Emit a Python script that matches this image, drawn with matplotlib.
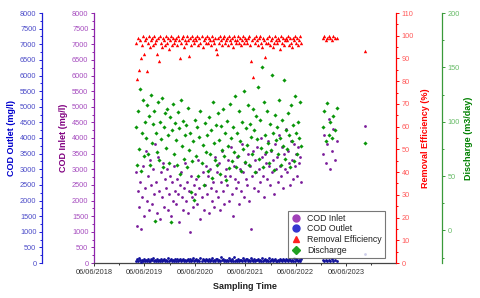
import numpy as np
import pandas as pd
import matplotlib
matplotlib.use('Agg')
import matplotlib.pyplot as plt
import matplotlib.dates as mdates
from matplotlib.ticker import MultipleLocator, FixedLocator
from matplotlib.lines import Line2D

plt.rcParams['font.family'] = ['Liberation Sans', 'DejaVu Sans']

# ---------------- data ----------------
sample_years = [
    2019.26, 2019.28, 2019.30, 2019.32, 2019.34, 2019.36, 2019.38, 2019.40, 2019.42, 2019.44,
    2019.46, 2019.48, 2019.50, 2019.52, 2019.54, 2019.56, 2019.58, 2019.60, 2019.62, 2019.64,
    2019.66, 2019.68, 2019.70, 2019.72, 2019.74, 2019.76, 2019.78, 2019.80, 2019.82, 2019.84,
    2019.86, 2019.88, 2019.90, 2019.92, 2019.94, 2019.96, 2019.98, 2020.00, 2020.02, 2020.04,
    2020.06, 2020.08, 2020.10, 2020.12, 2020.14, 2020.16, 2020.18, 2020.20, 2020.22, 2020.24,
    2020.26, 2020.28, 2020.30, 2020.32, 2020.34, 2020.36, 2020.38, 2020.40, 2020.42, 2020.44,
    2020.46, 2020.48, 2020.50, 2020.52, 2020.54, 2020.56, 2020.58, 2020.60, 2020.62, 2020.64,
    2020.66, 2020.68, 2020.70, 2020.72, 2020.74, 2020.76, 2020.78, 2020.80, 2020.82, 2020.84,
    2020.86, 2020.88, 2020.90, 2020.92, 2020.94, 2020.96, 2020.98, 2021.00, 2021.02, 2021.04,
    2021.06, 2021.08, 2021.10, 2021.12, 2021.14, 2021.16, 2021.18, 2021.20, 2021.22, 2021.24,
    2021.26, 2021.28, 2021.30, 2021.32, 2021.34, 2021.36, 2021.38, 2021.40, 2021.42, 2021.44,
    2021.46, 2021.48, 2021.50, 2021.52, 2021.54, 2021.56, 2021.58, 2021.60, 2021.62, 2021.64,
    2021.66, 2021.68, 2021.70, 2021.72, 2021.74, 2021.76, 2021.78, 2021.80, 2021.82, 2021.84,
    2021.86, 2021.88, 2021.90, 2021.92, 2021.94, 2021.96, 2021.98, 2022.00, 2022.02, 2022.04,
    2022.06, 2022.08, 2022.10, 2022.12, 2022.14, 2022.16, 2022.18, 2022.20, 2022.22, 2022.24,
    2022.26, 2022.28, 2022.30, 2022.32, 2022.34, 2022.36, 2022.38, 2022.40, 2022.42, 2022.44,
    2022.46, 2022.48, 2022.50, 2022.52, 2022.54,
    2022.96, 2022.99, 2023.02, 2023.05, 2023.08, 2023.11, 2023.14, 2023.17, 2023.20, 2023.24,
    2023.80,
]

cod_inlet = [
    2900, 1200, 2300, 1800, 2600, 1100, 2100, 3100, 1500, 2400,
    3600, 2000, 2800, 1700, 3300, 2500, 1900, 3000, 2200, 3800,
    2600, 1600, 3400, 2300, 1400, 2900, 2100, 3200, 1800, 2700,
    2400, 3000, 1700, 2200, 2800, 1500, 2600, 2000, 3100, 2300,
    1900, 2700, 2200, 1300, 2500, 2900, 2100, 1700, 2400, 3200,
    2000, 2600, 1600, 2300, 1000, 2800, 2100, 1800, 2500, 2200,
    2700, 1900, 3300, 2400, 1400, 2100, 2900, 1700, 2500, 3100,
    2200, 2800, 1600, 3000, 2400, 2000, 2600, 1800, 3400, 2300,
    2900, 2100, 3200, 1700, 2600, 3600, 2300, 1900, 2800, 3000,
    2500, 3300, 2000, 2800, 3700, 2200, 1500, 3100, 2700, 2400,
    3400, 2600, 1900, 3000, 2300, 3800, 2900, 2100, 3200, 2700,
    2500, 3500, 2000, 3100, 1100, 2800, 3600, 2400, 3300, 2900,
    3700, 2300, 3000, 2600, 4000, 3400, 2800, 2100, 3500, 3200,
    2700, 3900, 3100, 2500, 3600, 2900, 3300, 2200, 3800, 3000,
    3400, 2600, 4100, 3100, 2800, 3700, 2400, 3500, 3000, 4300,
    2900, 3600, 3200, 2500, 3900, 3300, 2700, 3800, 3100, 3500,
    2800, 3700, 3200, 3400, 2600,
    3500, 4100, 3200, 3800, 4600, 3000, 3600, 4300, 3300, 3900,
    4400,
]

cod_outlet = [
    80, 120, 60, 150, 90, 40, 110, 70, 130, 50,
    100, 60, 140, 80, 50, 120, 90, 160, 70, 110,
    60, 130, 80, 100, 50, 140, 70, 90, 120, 60,
    110, 70, 150, 50, 90, 130, 60, 100, 80, 140,
    70, 120, 50, 100, 140, 60, 90, 130, 80, 110,
    60, 100, 140, 70, 120, 50, 90, 150, 80, 110,
    130, 60, 100, 80, 150, 70, 120, 90, 60, 140,
    90, 50, 130, 70, 110, 160, 80, 100, 60, 120,
    140, 70, 100, 60, 180, 90, 120, 50, 110, 80,
    100, 60, 150, 90, 70, 130, 80, 200, 60, 110,
    80, 140, 60, 110, 90, 70, 160, 100, 50, 130,
    120, 70, 100, 60, 150, 90, 80, 130, 60, 110,
    90, 140, 60, 110, 80, 170, 70, 100, 130, 60,
    110, 80, 150, 60, 100, 130, 70, 90, 120, 60,
    80, 110, 60, 140, 90, 70, 120, 100, 60, 130,
    100, 70, 130, 90, 60, 110, 80, 150, 70, 120,
    90, 60, 110, 80, 130,
    90, 70, 110, 60, 100, 80, 120, 70, 90, 60,
    290,
]

removal_eff = [
    97, 81, 99, 85, 98, 90, 96, 100, 92, 98,
    99, 84.5, 97, 100, 95, 98, 99, 96, 100, 97,
    98, 92, 99, 89, 100, 97, 95, 99, 98, 96,
    100, 97, 99, 94, 98, 100, 96, 99, 97, 98,
    99, 96, 100, 98, 90, 97, 99, 100, 95, 98,
    97, 100, 98, 91, 99, 96, 100, 98, 97, 99,
    98, 100, 96, 99, 97, 100, 95, 98, 99, 97,
    100, 97, 99, 98, 96, 100, 98, 97, 99, 94,
    92, 99, 97, 100, 98, 96, 99, 100, 97, 98,
    99, 96, 100, 98, 97, 99, 95, 100, 98, 97,
    98, 100, 97, 99, 96, 98, 100, 97, 99, 98,
    97, 99, 100, 96, 89, 98, 82, 99, 97, 100,
    98, 96, 99, 100, 97, 95, 99, 98, 90.5, 97,
    99, 97, 100, 96, 98, 99, 95, 97, 100, 98,
    97, 99, 98, 94, 100, 97, 99, 96, 98, 99,
    98, 100, 96, 99, 97, 95, 99, 98, 100, 97,
    99, 96, 98, 100, 97,
    99, 100, 98, 99, 100, 99, 98, 100, 99, 99,
    93.5,
]

discharge = [
    95, 60, 110, 75, 130, 55, 90, 120, 68, 100,
    85, 115, 70, 105, 60, 125, 80, 98, 110, 9,
    90, 72, 118, 65, 100, 84, 122, 58, 95, 108,
    76, 112, 88, 62, 104, 8, 92, 116, 70, 99,
    83, 60, 109, 94, 52, 120, 78, 101, 66, 88,
    97, 58, 113, 74, 90, 35, 64, 82, 28, 102,
    68, 95, 50, 86, 110, 62, 79, 42, 99, 72,
    88, 55, 104, 70, 92, 48, 118, 80, 65, 97,
    60, 108, 83, 52, 96, 74, 112, 68, 90, 46,
    101, 78, 57, 116, 85, 64, 95, 72, 124, 58,
    90, 68, 110, 82, 55, 100, 75, 128, 63, 94,
    79, 115, 60, 98, 86, 70, 112, 92, 54, 105,
    84, 132, 66, 102, 76, 150, 58, 118, 88, 72,
    110, 80, 62, 98, 74, 143, 90, 56, 106, 83,
    95, 70, 120, 85, 60, 102, 78, 138, 66, 92,
    75, 108, 88, 58, 115, 82, 97, 64, 124, 90,
    70, 100, 85, 118, 78,
    95, 110, 82, 117, 88, 100, 85, 105, 92, 113,
    80,
]

x_tick_labels = ['06/06/2018', '06/06/2019', '06/06/2020',
                 '06/06/2021', '06/06/2022', '06/06/2023']
legend_labels = ['COD Inlet', 'COD Outlet', 'Removal Efficiency', 'Discharge']


def year_to_date(y):
    yi = int(y)
    return pd.Timestamp(f'{yi}-01-01') + pd.Timedelta(days=(y - yi) * 365.25)


dates = [year_to_date(y) for y in sample_years]

# ---------------- colours ----------------
c_in, c_in_lab = '#8E24AA', '#A64DBF'
c_out, c_out_lab = '#1F1FD6', '#4B4BC8'
c_eff, c_eff_lab = '#FF0000', '#FF5A5A'
c_dis, c_dis_lab = '#3A9A3A', '#66BB66'

fig = plt.figure(figsize=(4.8, 2.98), dpi=100)
W, H = 480, 298
L, R, T, B = 94, 396, 13, 263
ax = fig.add_axes([L / W, (H - B) / H, (R - L) / W, (B - T) / H])
ax_out = ax.twinx()
ax_eff = ax.twinx()
ax_dis = ax.twinx()

# scatter
ax.scatter(dates, cod_inlet, s=4, marker='o', color='#7A1C9A', linewidths=0, zorder=3)
ax_out.scatter(dates, cod_outlet, s=4, marker='o', color='#10109A', linewidths=0, zorder=3)
ax_eff.scatter(dates, removal_eff, s=6, marker='^', color='#FF0000', linewidths=0, zorder=3)
ax_dis.scatter(dates, discharge, s=4.5, marker='D', color='#0A960A', linewidths=0, zorder=3)

# x axis
ax.set_xlim(pd.Timestamp('2018-06-06'), pd.Timestamp('2024-06-01'))
xt = [pd.Timestamp(s[6:] + '-06-06') for s in x_tick_labels]
ax.set_xticks(xt)
ax.set_xticklabels(x_tick_labels)
ax.xaxis.set_minor_locator(FixedLocator(mdates.date2num(
    [pd.Timestamp(f'{y}-12-06') for y in range(2018, 2024)])))
ax.tick_params(axis='x', which='both', colors='#333333', labelsize=5.3, width=0.7, pad=2)
ax.tick_params(axis='x', which='major', length=2.5)
ax.tick_params(axis='x', which='minor', length=1.5)
ax.set_xlabel('Sampling Time', fontsize=6.5, fontweight='bold', color='#222222', labelpad=4)
ax.spines['bottom'].set_color('#444444')
ax.spines['bottom'].set_linewidth(0.9)


def style_y(a, side, color, labcolor, lim, major, minor, label, pos=None, lpad=3):
    for s in ['top', 'bottom', 'left', 'right']:
        a.spines[s].set_visible(False)
    a.spines[side].set_visible(True)
    a.spines[side].set_color(color)
    a.spines[side].set_linewidth(0.9)
    if pos is not None:
        a.spines[side].set_position(('axes', pos))
    if side == 'left':
        a.yaxis.tick_left()
        a.yaxis.set_label_position('left')
    else:
        a.yaxis.tick_right()
        a.yaxis.set_label_position('right')
    a.set_ylim(*lim)
    a.yaxis.set_major_locator(MultipleLocator(major))
    a.yaxis.set_minor_locator(MultipleLocator(minor))
    a.tick_params(axis='y', which='both', color=color, width=0.7, labelcolor=labcolor,
                  labelsize=5.3, pad=1.5)
    a.tick_params(axis='y', which='major', length=2.5)
    a.tick_params(axis='y', which='minor', length=1.5)
    a.set_ylabel(label, fontsize=6.5, fontweight='bold', color=color, labelpad=lpad)


style_y(ax, 'left', c_in, c_in_lab, (0, 8000), 500, 250, 'COD Inlet (mg/l)', lpad=3)
ax.spines['top'].set_visible(False)
ax.spines['bottom'].set_visible(True)
style_y(ax_out, 'left', c_out, c_out_lab, (0, 8000), 500, 250, 'COD Outlet (mg/l)',
        pos=-(94 - 42) / 302, lpad=3)
style_y(ax_eff, 'right', c_eff, c_eff_lab, (0, 110), 10, 5, 'Removal Efficiency (%)', lpad=5)
style_y(ax_dis, 'right', c_dis, c_dis_lab, (-30, 200), 50, 25, 'Discharge (m3/day)',
        pos=1 + (442 - 396) / 302, lpad=3)
ax.yaxis.label.set_color('#800080')
ax_out.yaxis.label.set_color('#0000CC')
ax_dis.yaxis.label.set_color('#008000')
ax_dis.set_yticks([0, 50, 100, 150, 200])

# legend
handles = [
    Line2D([], [], marker='o', ls='', color='#A040B8', markersize=5),
    Line2D([], [], marker='o', ls='', color='#3535D0', markersize=5),
    Line2D([], [], marker='^', ls='', color='#FF2020', markersize=4.5),
    Line2D([], [], marker='D', ls='', color='#20A020', markersize=3.8),
]
leg = ax_dis.legend(handles, legend_labels, loc='lower left',
                    bbox_to_anchor=((288 - L) / (R - L), (B - 258) / (B - T)),
                    borderaxespad=0, fontsize=6.3, frameon=True, fancybox=False,
                    edgecolor='#555555', handlelength=1.2, handletextpad=0.6,
                    labelspacing=0.2, borderpad=0.35)
leg.get_frame().set_linewidth(0.8)
for t in leg.get_texts():
    t.set_color('#222222')

fig.savefig('out.png', dpi=100, facecolor='white')
